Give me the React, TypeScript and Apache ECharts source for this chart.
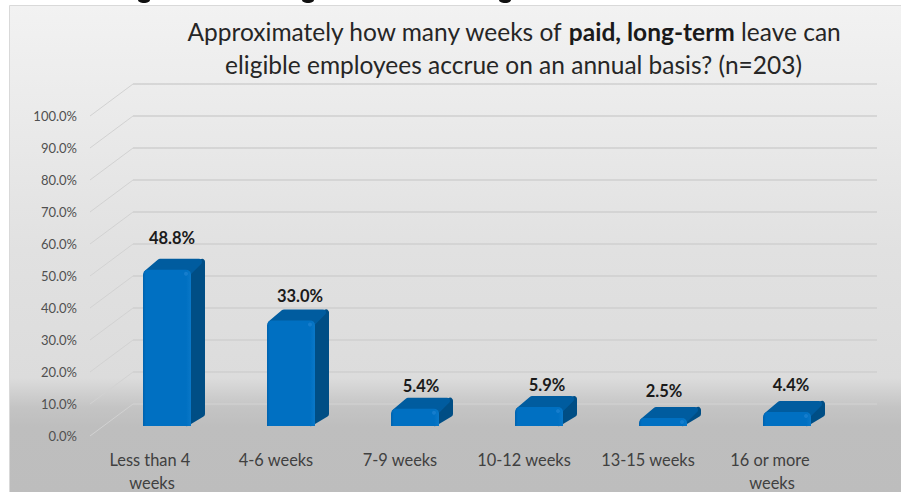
import React, { useEffect, useRef } from "react";
import * as echarts from "echarts";

const categories = ["Less than 4 weeks", "4-6 weeks", "7-9 weeks", "10-12 weeks", "13-15 weeks", "16 or more weeks"];
const values = [48.8, 33.0, 5.4, 5.9, 2.5, 4.4];
const gridTicks = [0, 10, 20, 30, 40, 50, 60, 70, 80, 90, 100];
const labelNudgeX = [5, 9, 6, 8, 1, 4];
const labelNudgeY = [-21, -13, -12, -11, -16, -16];

const FONT = "Lato";
const WALL_DX = 43;
const WALL_DY = 32;
const BAR_W = 48;
const BAR_DX = 15;
const BAR_DY = 10;
const DEPTH_X = 14;
const DEPTH_Y = 11;

export default function App() {
  const ref = useRef<HTMLDivElement>(null);
  useEffect(() => {
    const chart = echarts.init(ref.current!, null, { renderer: "svg" });
    const wall = (params: any, api: any) => {
      const cs = params.coordSys;
      const y = api.coord([0, api.value(1)])[1];
      const bx = cs.x + WALL_DX;
      const by = y - WALL_DY;
      return {
        type: "group",
        silent: true,
        children: [
          { type: "line", shape: { x1: cs.x, y1: y, x2: bx, y2: by }, style: { stroke: "#d2d2d2", lineWidth: 1 } },
          { type: "line", shape: { x1: bx, y1: by, x2: bx + cs.width, y2: by }, style: { stroke: "#cfcfcf", lineWidth: 1.5 } },
        ],
      };
    };
    const bar = (params: any, api: any) => {
      const i = params.dataIndex;
      const v = api.value(1);
      const c = api.coord([i, v]);
      const c0 = api.coord([i, 0]);
      const x = c[0] + BAR_DX - BAR_W / 2;
      const top = c[1] - BAR_DY;
      const base = c0[1] - BAR_DY;
      const r = x + BAR_W;
      const inset = 3;
      return {
        type: "group",
        silent: true,
        children: [
          {
            type: "polygon",
            shape: { points: [[r - 4, top + inset], [r + DEPTH_X - inset, top - DEPTH_Y + inset], [r + DEPTH_X - inset, base - DEPTH_Y - 1], [r - 4, base - inset]] },
            style: { fill: "#004e85", stroke: "#004e85", lineWidth: 6, lineJoin: "round" },
          },
          {
            type: "polygon",
            shape: { points: [[x + inset + 1, top + inset], [x + DEPTH_X + inset, top - DEPTH_Y + inset], [r + DEPTH_X - inset - 3, top - DEPTH_Y + inset], [r - 3, top + inset]] },
            style: { fill: "#005c9f", stroke: "#005c9f", lineWidth: 6, lineJoin: "round" },
          },
          {
            type: "rect",
            shape: { x, y: top, width: BAR_W, height: base - top, r: [5, 5, 0, 0] },
            style: {
              fill: new echarts.graphic.LinearGradient(0, 0, 1, 0, [
                { offset: 0, color: "#0062ad" },
                { offset: 0.06, color: "#0070c2" },
                { offset: 0.9, color: "#0070c2" },
                { offset: 1, color: "#0a78c8" },
              ]),
            },
          },
          { type: "circle", shape: { cx: r - 5, cy: top + 4, r: 2 }, style: { fill: "#2a8ad8", opacity: 0.5 } },
          {
            type: "text",
            style: {
              x: x + BAR_W / 2 + labelNudgeX[i],
              y: top - DEPTH_Y + labelNudgeY[i],
              text: v.toFixed(1) + "%",
              font: `bold 16.5px ${FONT}`,
              fill: "#1a1a1a",
              align: "center",
              verticalAlign: "middle",
            },
          },
        ],
      };
    };
    chart.setOption({
      animation: false,
      backgroundColor: "#ffffff",
      textStyle: { fontFamily: FONT },
      graphic: [
        {
          type: "rect",
          z: -10,
          silent: true,
          shape: { x: 9.5, y: 5.5, width: 900, height: 490 },
          style: {
            stroke: "#d9d9d9",
            lineWidth: 1,
            fill: new echarts.graphic.LinearGradient(0, 0, 0, 1, [
              { offset: 0, color: "#f2f2f2" },
              { offset: 0.5, color: "#e1e1e1" },
              { offset: 0.76, color: "#dcdcdc" },
              { offset: 0.82, color: "#c4c4c4" },
              { offset: 0.86, color: "#bebebe" },
              { offset: 1, color: "#bdbdbd" },
            ]),
          },
        },
        { type: "ellipse", silent: true, z: -5, shape: { cx: 144, cy: 0, rx: 6, ry: 3 }, style: { fill: "#111" } },
        { type: "ellipse", silent: true, z: -5, shape: { cx: 308, cy: 0, rx: 6, ry: 3 }, style: { fill: "#111" } },
        { type: "ellipse", silent: true, z: -5, shape: { cx: 505, cy: 0, rx: 6, ry: 3 }, style: { fill: "#111" } },
      ],
      title: {
        left: 508.5,
        top: 10,
        textAlign: "center",
        text: "{a|Approximately how many weeks of }{b|paid, long-term}{a| leave can}\n{a|eligible employees accrue on an annual basis? (n=203)}",
        textStyle: {
          fontWeight: "normal",
          rich: {
            a: { fontFamily: FONT, fontSize: 24.5, fontWeight: "normal", color: "#262626", lineHeight: 33 },
            b: { fontFamily: FONT, fontSize: 24.5, fontWeight: "bold", color: "#1a1a1a", lineHeight: 33 },
          },
        },
      },
      grid: { left: 90, width: 744, top: 116, height: 320, outerBoundsMode: "none" },
      xAxis: {
        type: "category",
        data: categories,
        axisLine: { show: false },
        axisTick: { show: false },
        axisLabel: { color: "#404040", fontSize: 16.4, fontFamily: FONT, margin: 12, lineHeight: 23, width: 108, overflow: "break", interval: 0 },
      },
      yAxis: {
        type: "value",
        min: 0,
        max: 100,
        interval: 10,
        axisLine: { show: false },
        axisTick: { show: false },
        splitLine: { show: false },
        axisLabel: { color: "#505050", fontSize: 13, fontFamily: FONT, margin: 13, padding: [2, 0, 0, 0], formatter: (v: number) => v.toFixed(1) + "%" },
      },
      series: [
        { type: "custom", renderItem: wall, data: gridTicks.map((t) => [0, t]), encode: { x: 0, y: 1 }, clip: false, z: 1 },
        { type: "custom", renderItem: bar, data: values.map((v, i) => [i, v]), encode: { x: 0, y: 1 }, clip: false, z: 2 },
      ],
    });
    return () => chart.dispose();
  }, []);
  return <div ref={ref} style={{ position: "fixed", left: 0, top: 0, width: 901, height: 492 }} />;
}
